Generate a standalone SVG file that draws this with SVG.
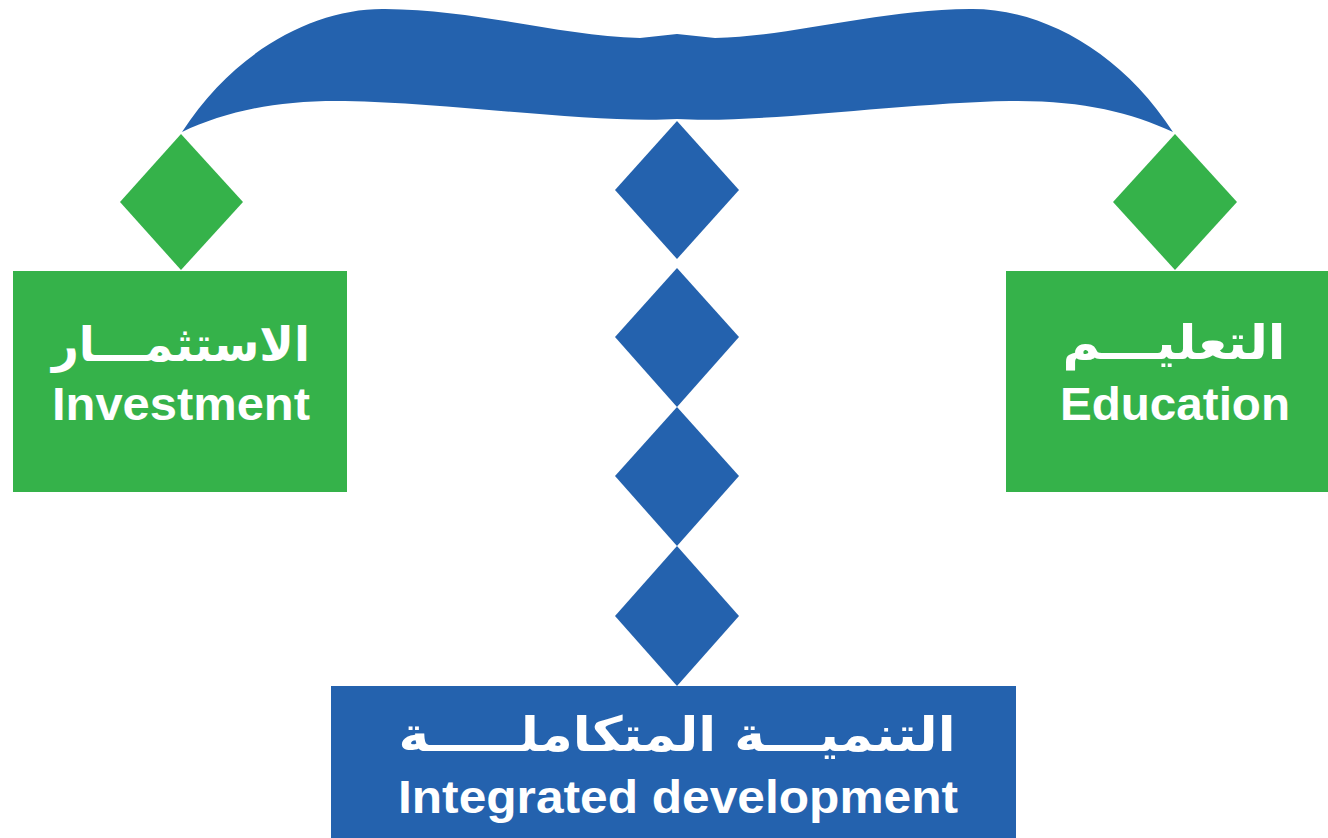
<svg xmlns="http://www.w3.org/2000/svg" width="1328" height="838" viewBox="0 0 1328 838">
<style>
.g{fill:#35B24A}
.b{fill:#2462AE}
.ar{font-family:"DejaVu Sans",sans-serif;font-weight:bold;font-size:48px;fill:#fff;text-anchor:middle}
.en{font-family:"Liberation Sans",Arial,sans-serif;font-weight:bold;font-size:46px;fill:#fff;text-anchor:middle}
</style>
<rect width="1328" height="838" fill="#fff"/>
<g id="connectors">
<path class="b" d="M182,132 C235,50 315,8 385,9 C480,10 560,36 640,38 L677,34 L715,38 C795,36 875,10 970,9 C1040,8 1120,50 1173,132 C1130,112 1080,100 1010,101 C900,103 760,124 677,119 C594,124 455,103 345,101 C275,100 225,112 182,132 Z"/>
<polygon class="g" points="181,134 243,202 181,270 120,202"/>
<polygon class="g" points="1175,134 1237,202 1175,270 1113,202"/>
<polygon class="b" points="677,121 739,190 677,259 615,190"/>
<polygon class="b" points="677,268 739,337 677,407 615,337"/>
<polygon class="b" points="677,407 739,476 677,546 615,476"/>
<polygon class="b" points="677,546 739,616 677,686 615,616"/>
</g>
<g id="investment">
<rect class="g" x="13" y="271" width="334" height="221"/>
<text class="ar" x="181" y="361" textLength="258" lengthAdjust="spacingAndGlyphs">الاستثمـــار</text>
<text class="en" x="181" y="420" textLength="258" lengthAdjust="spacingAndGlyphs">Investment</text>
</g>
<g id="education">
<rect class="g" x="1006" y="271" width="322" height="221"/>
<text class="ar" x="1174" y="359" textLength="223" lengthAdjust="spacingAndGlyphs">التعليـــم</text>
<text class="en" x="1175" y="420" textLength="230" lengthAdjust="spacingAndGlyphs">Education</text>
</g>
<g id="integrated">
<rect class="b" x="331" y="686" width="685" height="152"/>
<text class="ar" x="677" y="751" textLength="557" lengthAdjust="spacingAndGlyphs">التنميـــة المتكاملـــــة</text>
<text class="en" x="678" y="813" textLength="560" lengthAdjust="spacingAndGlyphs">Integrated development</text>
</g>
</svg>
